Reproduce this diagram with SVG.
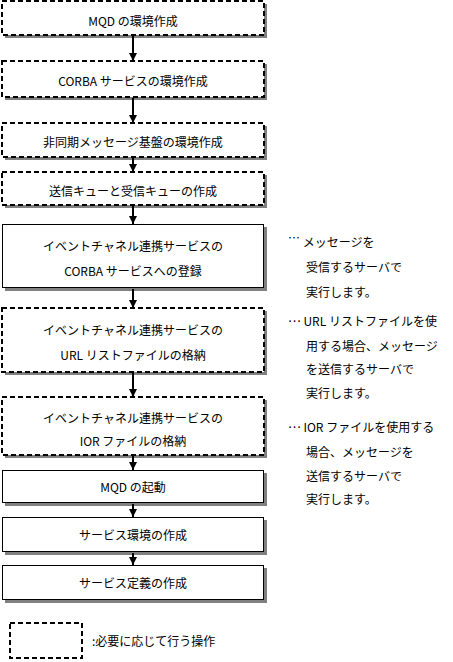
<svg xmlns="http://www.w3.org/2000/svg" width="453" height="662" viewBox="0 0 453 662">
<style>
.bg{fill:#fff}
.sh{fill:#808080}
.d{fill:#fff;stroke:#000;stroke-width:2;stroke-dasharray:5 3}
.s{fill:#fff;stroke:#000;stroke-width:1}
text{font-family:"Noto Sans CJK JP",sans-serif;font-size:12px;fill:#000}
.c{text-anchor:middle}
.ln{stroke:#000;stroke-width:2;fill:none}
</style>
<defs>
<marker id="ah" viewBox="0 0 8 8" refX="8" refY="4" markerWidth="8" markerHeight="8" markerUnits="userSpaceOnUse" orient="auto">
<path d="M0,0 L8,4 L0,8 Z" fill="#000"/>
</marker>
</defs>
<rect class="bg" x="0" y="0" width="453" height="662"/>
<g id="n1"><rect class="sh" x="5" y="4" width="262" height="34"/><rect class="d" x="2" y="1" width="262" height="34"/><text class="c" x="133" y="26">MQD の環境作成</text></g>
<g id="n2"><rect class="sh" x="5" y="64" width="262" height="36"/><rect class="d" x="2" y="61" width="262" height="36"/><text class="c" x="133" y="86">CORBA サービスの環境作成</text></g>
<g id="n3"><rect class="sh" x="5" y="126" width="262" height="34"/><rect class="d" x="2" y="123" width="262" height="34"/><text class="c" x="133" y="147">非同期メッセージ基盤の環境作成</text></g>
<g id="n4"><rect class="sh" x="5" y="175" width="262" height="33"/><rect class="d" x="2" y="172" width="262" height="33"/><text class="c" x="133" y="196">送信キューと受信キューの作成</text></g>
<g id="n5"><rect class="sh" x="5" y="227" width="262" height="64"/><rect class="s" x="2.5" y="224.5" width="261" height="63"/><text class="c" x="133" y="251">イベントチャネル連携サービスの</text><text class="c" x="133" y="276">CORBA サービスへの登録</text></g>
<g id="n6"><rect class="sh" x="5" y="311" width="262" height="64"/><rect class="d" x="2" y="308" width="262" height="64"/><text class="c" x="133" y="335">イベントチャネル連携サービスの</text><text class="c" x="133" y="360">URL リストファイルの格納</text></g>
<g id="n7"><rect class="sh" x="5" y="400" width="262" height="58"/><rect class="d" x="2" y="397" width="262" height="58"/><text class="c" x="133" y="423">イベントチャネル連携サービスの</text><text class="c" x="133" y="446">IOR ファイルの格納</text></g>
<g id="n8"><rect class="sh" x="5" y="473" width="262" height="33"/><rect class="s" x="2.5" y="470.5" width="261" height="32"/><text class="c" x="133" y="492">MQD の起動</text></g>
<g id="n9"><rect class="sh" x="5" y="520" width="262" height="35"/><rect class="s" x="2.5" y="517.5" width="261" height="34"/><text class="c" x="133" y="540">サービス環境の作成</text></g>
<g id="n10"><rect class="sh" x="5" y="568" width="262" height="35"/><rect class="s" x="2.5" y="565.5" width="261" height="34"/><text class="c" x="133" y="588">サービス定義の作成</text></g>
<g id="connectors">
<line class="ln" x1="133" y1="36" x2="133" y2="61" marker-end="url(#ah)"/>
<line class="ln" x1="133" y1="98" x2="133" y2="123" marker-end="url(#ah)"/>
<line class="ln" x1="133" y1="158" x2="133" y2="172" marker-end="url(#ah)"/>
<line class="ln" x1="133" y1="206" x2="133" y2="224" marker-end="url(#ah)"/>
<line class="ln" x1="133" y1="289" x2="133" y2="308" marker-end="url(#ah)"/>
<line class="ln" x1="133" y1="373" x2="133" y2="397" marker-end="url(#ah)"/>
<line class="ln" x1="133" y1="456" x2="133" y2="470" marker-end="url(#ah)"/>
<line class="ln" x1="133" y1="504" x2="133" y2="517" marker-end="url(#ah)"/>
<line class="ln" x1="133" y1="553" x2="133" y2="565" marker-end="url(#ah)"/>
</g>
<g id="notes">
<text x="288" y="247"><tspan dy="-4">…</tspan><tspan dy="4"> メッセージを</tspan></text>
<text x="306" y="272">受信するサーバで</text>
<text x="306" y="297">実行します。</text>
<text x="288" y="326"><tspan dy="-4">…</tspan><tspan dy="4"> URL リストファイルを使</tspan></text>
<text x="306" y="351">用する場合、メッセージ</text>
<text x="306" y="374">を送信するサーバで</text>
<text x="306" y="398">実行します。</text>
<text x="288" y="432"><tspan dy="-4">…</tspan><tspan dy="4"> IOR ファイルを使用する</tspan></text>
<text x="306" y="457">場合、メッセージを</text>
<text x="306" y="481">送信するサーバで</text>
<text x="306" y="504">実行します。</text>
</g>
<g id="legend">
<rect class="d" x="10" y="623" width="72" height="35"/>
<text x="92" y="646">:必要に応じて行う操作</text>
</g>
</svg>
